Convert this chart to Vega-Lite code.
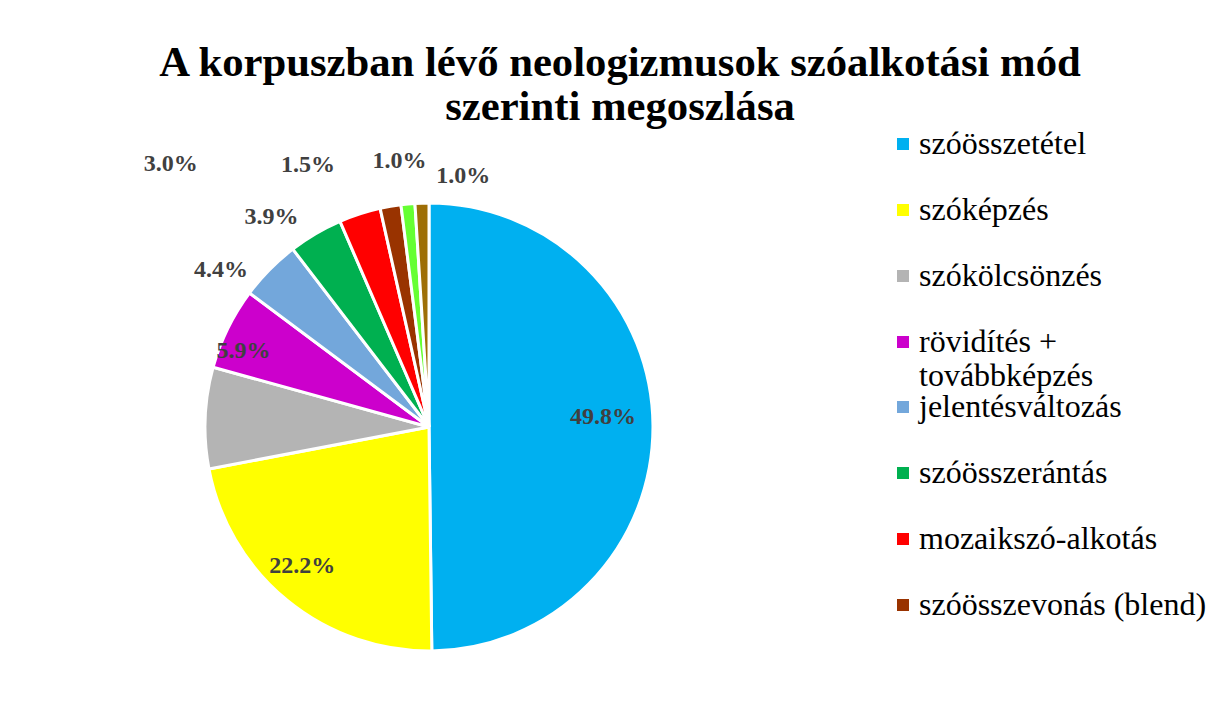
{
  "$schema": "https://vega.github.io/schema/vega-lite/v6.json",
  "width": 848,
  "height": 572,
  "autosize": {"type": "none"},
  "padding": {"left": 5, "top": 141, "right": 364, "bottom": 0},
  "background": "white",
  "config": {
    "view": {"stroke": null},
    "legend": {"labelFont": "Liberation Serif", "labelFontSize": 32, "labelColor": "#000000", "labelFontWeight": "normal"}
  },
  "title": {
    "text": ["A korpuszban lévő neologizmusok szóalkotási mód", "szerinti megoszlása"],
    "font": "Liberation Serif",
    "fontSize": 42.7,
    "fontWeight": "bold",
    "color": "#000000",
    "anchor": "middle",
    "dx": 191,
    "offset": -1,
    "lineHeight": 44
  },
  "data": {
    "values": [
      {"kat": "szóösszetétel", "p": 49.8, "o": 1, "lab": "49.8%"},
      {"kat": "szóképzés", "p": 22.2, "o": 2, "lab": "22.2%"},
      {"kat": "szókölcsönzés", "p": 7.3, "o": 3, "lab": "7.3%"},
      {"kat": "rövidítés + továbbképzés", "p": 5.9, "o": 4, "lab": "5.9%"},
      {"kat": "jelentésváltozás", "p": 4.4, "o": 5, "lab": "4.4%"},
      {"kat": "szóösszerántás", "p": 3.9, "o": 6, "lab": "3.9%"},
      {"kat": "mozaikszó-alkotás", "p": 3.0, "o": 7, "lab": "3.0%"},
      {"kat": "szóösszevonás (blend)", "p": 1.5, "o": 8, "lab": "1.5%"},
      {"kat": "szócsonkítás", "p": 1.0, "o": 9, "lab": "1.0%"},
      {"kat": "egyéb", "p": 1.0, "o": 10, "lab": "1.0%"}
    ]
  },
  "encoding": {
    "theta": {"field": "p", "type": "quantitative", "stack": true},
    "order": {"field": "o", "type": "quantitative"}
  },
  "layer": [
    {
      "mark": {"type": "arc", "outerRadius": 224, "stroke": "white", "strokeWidth": 3},
      "encoding": {
        "color": {
          "field": "kat",
          "type": "nominal",
          "scale": {
            "domain": ["szóösszetétel", "szóképzés", "szókölcsönzés", "rövidítés + továbbképzés", "jelentésváltozás", "szóösszerántás", "mozaikszó-alkotás", "szóösszevonás (blend)", "szócsonkítás", "egyéb"],
            "range": ["#00B0F0", "#FFFF00", "#B4B4B4", "#CC00CC", "#73A7DB", "#00B050", "#FF0000", "#993300", "#66FF33", "#9E6E06"]
          },
          "legend": {
            "title": null,
            "orient": "none",
            "legendX": 882,
            "legendY": -13,
            "values": ["szóösszetétel", "szóképzés", "szókölcsönzés", "rövidítés + továbbképzés"],
            "symbolType": "square",
            "symbolSize": 144,
            "symbolStrokeWidth": 0,
            "labelFont": "Liberation Serif",
            "labelFontSize": 32,
            "labelColor": "#000000",
            "labelOffset": 0,
            "labelLimit": 400,
            "rowPadding": 34,
            "labelExpr": "datum.label == 'rövidítés + továbbképzés' ? ['rövidítés +', 'továbbképzés'] : datum.label"
          }
        }
      }
    },
    {
      "mark": {"type": "arc", "outerRadius": 224, "stroke": "white", "strokeWidth": 3},
      "encoding": {
        "fill": {
          "field": "kat",
          "type": "nominal",
          "scale": {
            "domain": ["egyéb", "szócsonkítás", "szóösszevonás (blend)", "mozaikszó-alkotás", "szóösszerántás", "jelentésváltozás", "rövidítés + továbbképzés", "szókölcsönzés", "szóképzés", "szóösszetétel"],
            "range": ["#9E6E06", "#66FF33", "#993300", "#FF0000", "#00B050", "#73A7DB", "#CC00CC", "#B4B4B4", "#FFFF00", "#00B0F0"]
          },
          "legend": {
            "title": null,
            "orient": "none",
            "legendX": 882,
            "legendY": 250,
            "values": ["jelentésváltozás", "szóösszerántás", "mozaikszó-alkotás", "szóösszevonás (blend)"],
            "symbolType": "square",
            "symbolSize": 144,
            "symbolStrokeWidth": 0,
            "labelFont": "Liberation Serif",
            "labelFontSize": 32,
            "labelColor": "#000000",
            "labelOffset": 0,
            "labelLimit": 400,
            "rowPadding": 34
          }
        }
      }
    },
    {
      "mark": {"type": "text", "radius": 174, "dy": -9, "font": "Liberation Serif", "fontSize": 24, "fontWeight": "bold", "fill": "#404040"},
      "encoding": {"text": {"condition": {"test": "datum.o == 1", "field": "lab"}, "value": ""}}
    },
    {
      "mark": {"type": "text", "radius": 180, "dx": -13, "font": "Liberation Serif", "fontSize": 24, "fontWeight": "bold", "fill": "#404040"},
      "encoding": {"text": {"condition": {"test": "datum.o == 2", "field": "lab"}, "value": ""}}
    },
    {
      "mark": {"type": "text", "radius": 200, "dx": -6, "dy": 12, "font": "Liberation Serif", "fontSize": 24, "fontWeight": "bold", "fill": "#404040"},
      "encoding": {"text": {"condition": {"test": "datum.o == 4", "field": "lab"}, "value": ""}}
    },
    {
      "mark": {"type": "text", "radius": 250, "dx": -30, "dy": 19, "font": "Liberation Serif", "fontSize": 24, "fontWeight": "bold", "fill": "#404040"},
      "encoding": {"text": {"condition": {"test": "datum.o == 5", "field": "lab"}, "value": ""}}
    },
    {
      "mark": {"type": "text", "radius": 250, "dx": -31, "dy": 6, "font": "Liberation Serif", "fontSize": 24, "fontWeight": "bold", "fill": "#404040"},
      "encoding": {"text": {"condition": {"test": "datum.o == 6", "field": "lab"}, "value": ""}}
    },
    {
      "mark": {"type": "text", "radius": 250, "dx": -181, "dy": -25, "font": "Liberation Serif", "fontSize": 24, "fontWeight": "bold", "fill": "#404040"},
      "encoding": {"text": {"condition": {"test": "datum.o == 7", "field": "lab"}, "value": ""}}
    },
    {
      "mark": {"type": "text", "radius": 250, "dx": -78, "dy": -16, "font": "Liberation Serif", "fontSize": 24, "fontWeight": "bold", "fill": "#404040"},
      "encoding": {"text": {"condition": {"test": "datum.o == 8", "field": "lab"}, "value": ""}}
    },
    {
      "mark": {"type": "text", "radius": 250, "dx": -6, "dy": -17, "font": "Liberation Serif", "fontSize": 24, "fontWeight": "bold", "fill": "#404040"},
      "encoding": {"text": {"condition": {"test": "datum.o == 9", "field": "lab"}, "value": ""}}
    },
    {
      "mark": {"type": "text", "radius": 250, "dx": 42, "dy": -1, "font": "Liberation Serif", "fontSize": 24, "fontWeight": "bold", "fill": "#404040"},
      "encoding": {"text": {"condition": {"test": "datum.o == 10", "field": "lab"}, "value": ""}}
    }
  ]
}
